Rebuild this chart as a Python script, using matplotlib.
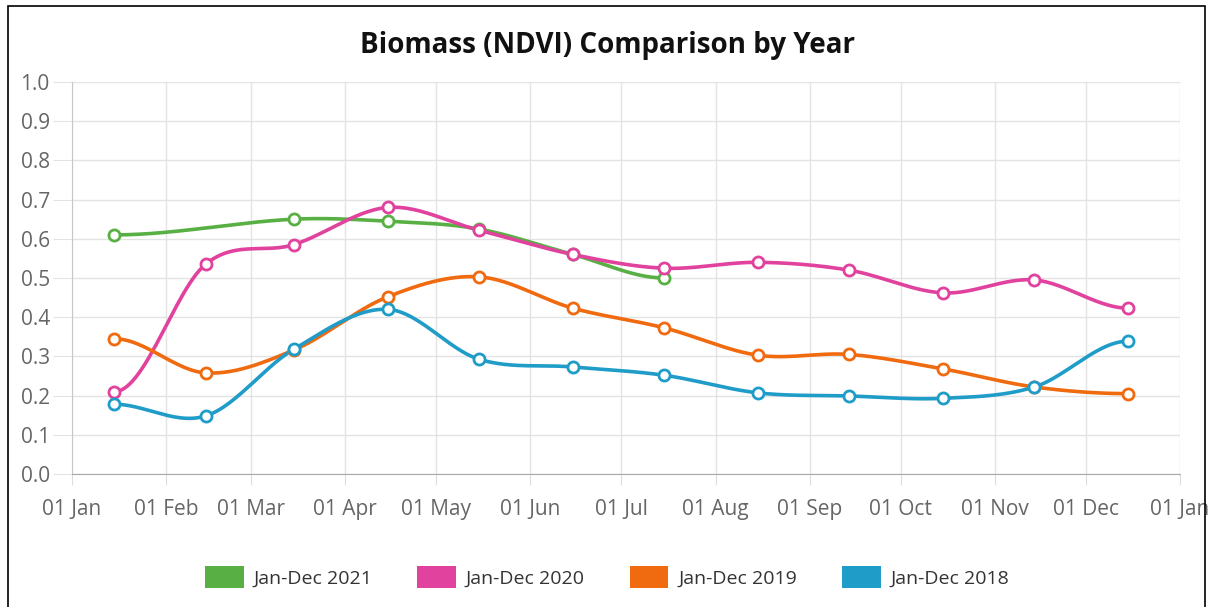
import matplotlib

matplotlib.use("Agg")
import matplotlib.dates as mdates
import matplotlib.pyplot as plt
import numpy as np
from matplotlib.patches import Patch, Rectangle

plt.rcParams["font.family"] = ["Open Sans", "DejaVu Sans"]

# mid-month sampling dates (one reference year for all series)
months = ["2021-01-15", "2021-02-14", "2021-03-15", "2021-04-15", "2021-05-15", "2021-06-15",
          "2021-07-15", "2021-08-15", "2021-09-14", "2021-10-15", "2021-11-14", "2021-12-15"]
tick_dates = ["2021-%02d-01" % m for m in range(1, 13)] + ["2022-01-01"]

ndvi_2021 = [0.61, None, 0.65, 0.645, 0.625, 0.56, 0.50, None, None, None, None, None]
ndvi_2020 = [0.21, 0.535, 0.585, 0.68, 0.622, 0.56, 0.525, 0.54, 0.52, 0.462, 0.495, 0.423]
ndvi_2019 = [0.345, 0.258, 0.316, 0.452, 0.503, 0.423, 0.373, 0.303, 0.305, 0.268, 0.222, 0.205]
ndvi_2018 = [0.178, 0.148, 0.318, 0.42, 0.293, 0.273, 0.252, 0.207, 0.199, 0.193, 0.222, 0.339]

series = [
    ("Jan-Dec 2021", ndvi_2021, "#58b044"),
    ("Jan-Dec 2020", ndvi_2020, "#e0429e"),
    ("Jan-Dec 2019", ndvi_2019, "#f06a10"),
    ("Jan-Dec 2018", ndvi_2018, "#1f9cc8"),
]


def spline(x, y, n=30):
    # cubic Hermite with Catmull-Rom style tangents
    x = np.asarray(x, float)
    y = np.asarray(y, float)
    m = np.zeros_like(y)
    for i in range(1, len(x) - 1):
        m[i] = (y[i + 1] - y[i - 1]) / (x[i + 1] - x[i - 1])
    xs, ys = [], []
    for i in range(len(x) - 1):
        h = x[i + 1] - x[i]
        t = np.linspace(0, 1, n)
        h00 = 2 * t**3 - 3 * t**2 + 1
        h10 = t**3 - 2 * t**2 + t
        h01 = -2 * t**3 + 3 * t**2
        h11 = t**3 - t**2
        xs.append(x[i] + t * h)
        ys.append(h00 * y[i] + h10 * h * m[i] + h01 * y[i + 1] + h11 * h * m[i + 1])
    return np.concatenate(xs), np.concatenate(ys)


fig = plt.figure(figsize=(12.14, 6.07), dpi=100)
ax = fig.add_axes([72 / 1214, 1 - 474 / 607, 1108 / 1214, 392 / 607])

xnum = mdates.datestr2num(months)
handles = []
for label, vals, color in series:
    pts = [(xv, v) for xv, v in zip(xnum, vals) if v is not None]
    px = [p[0] for p in pts]
    py = [p[1] for p in pts]
    sx, sy = spline(px, py)
    ax.plot(sx, sy, color=color, lw=2.6, solid_capstyle="round", zorder=3)
    ax.plot(px, py, "o", ms=8, mfc="white", mec=color, mew=2, zorder=4)
    handles.append(Patch(facecolor=color, edgecolor="none", label=label))

ticks = mdates.datestr2num(tick_dates)
ax.set_xlim(ticks[0], ticks[-1])
ax.set_xticks(ticks)
ax.xaxis.set_major_formatter(mdates.DateFormatter("%d %b"))
ax.set_ylim(0, 1.0)
ax.set_yticks(np.arange(0, 1.01, 0.1))
ax.yaxis.set_major_formatter(matplotlib.ticker.FormatStrFormatter("%.1f"))

ax.grid(True, color="#e3e3e3", lw=1)
ax.set_axisbelow(True)
for s in ["top", "right"]:
    ax.spines[s].set_visible(False)
ax.spines["left"].set_color("#c8c8c8")
ax.spines["bottom"].set_color("#a8a8a8")
ax.tick_params(axis="x", colors="#dddddd", labelcolor="#666666", labelsize=15, length=8, pad=10)
ax.tick_params(axis="y", colors="#e3e3e3", labelcolor="#666666", labelsize=15, length=14, pad=2)

fig.text(0.5, 1 - 45 / 607, "Biomass (NDVI) Comparison by Year", ha="center", va="center",
         fontsize=20, fontweight="bold", color="#111111")

fig.legend(handles=handles, loc="center", bbox_to_anchor=(0.5, 1 - 577 / 607), ncol=4, frameon=False,
           fontsize=14, handlelength=2.0, handleheight=1.4, handletextpad=0.5, columnspacing=2.3,
           labelcolor="#333333")

fig.patches.append(Rectangle((8 / 1214, -0.01), 1197 / 1214, 1 - 6 / 607 + 0.01, transform=fig.transFigure,
                             fill=False, edgecolor="black", lw=1.2))

fig.savefig("out.png", dpi=100)
